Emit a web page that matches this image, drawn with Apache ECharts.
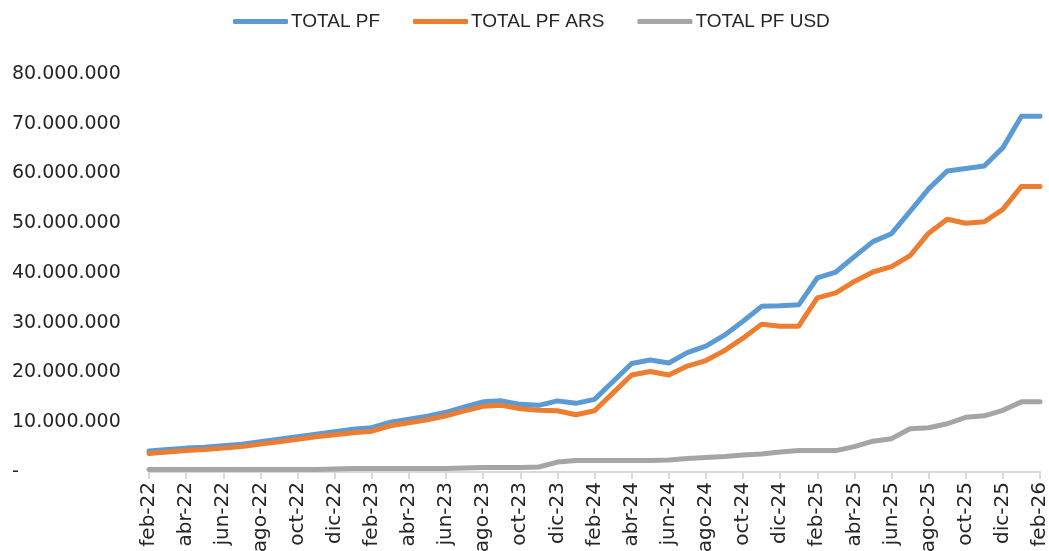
<!DOCTYPE html>
<html>
<head>
<meta charset="utf-8">
<script src="https://cdn.jsdelivr.net/npm/echarts@6/dist/echarts.min.js"></script>
<style>
    html, body { margin: 0; padding: 0; background: #fff; }
    .EC { width: 1049px; height: 551px; }
</style>
</head>
<body>
<div class="EC"></div>
<script>
// months feb-22 .. feb-26
const months = [
    'feb-22', 'mar-22', 'abr-22', 'may-22', 'jun-22', 'jul-22', 'ago-22', 'sep-22', 'oct-22', 'nov-22', 'dic-22', 'ene-23',
    'feb-23', 'mar-23', 'abr-23', 'may-23', 'jun-23', 'jul-23', 'ago-23', 'sep-23', 'oct-23', 'nov-23', 'dic-23', 'ene-24',
    'feb-24', 'mar-24', 'abr-24', 'may-24', 'jun-24', 'jul-24', 'ago-24', 'sep-24', 'oct-24', 'nov-24', 'dic-24', 'ene-25',
    'feb-25', 'mar-25', 'abr-25', 'may-25', 'jun-25', 'jul-25', 'ago-25', 'sep-25', 'oct-25', 'nov-25', 'dic-25', 'ene-26',
    'feb-26'
]

// values in millions
const totalPF = [
    4.2, 4.5, 4.8, 5.0, 5.3, 5.6, 6.1, 6.6, 7.1, 7.6, 8.1, 8.6,
    8.9, 10.0, 10.6, 11.2, 12.0, 13.1, 14.1, 14.3, 13.6, 13.4, 14.3, 13.8,
    14.6, 18.2, 21.8, 22.5, 21.9, 24.0, 25.3, 27.5, 30.3, 33.3, 33.4, 33.6,
    39.0, 40.2, 43.3, 46.3, 47.9, 52.4, 56.9, 60.5, 61.0, 61.5, 65.2, 71.5,
    71.5
]
const totalPFArs = [
    3.7, 4.0, 4.3, 4.5, 4.8, 5.1, 5.6, 6.1, 6.6, 7.1, 7.5, 7.9,
    8.2, 9.3, 9.9, 10.5, 11.3, 12.3, 13.2, 13.4, 12.7, 12.4, 12.3, 11.5,
    12.3, 15.9, 19.5, 20.2, 19.5, 21.3, 22.4, 24.4, 26.9, 29.7, 29.3, 29.3,
    35.0, 36.0, 38.3, 40.2, 41.3, 43.5, 48.0, 50.8, 50.0, 50.3, 52.8, 57.4,
    57.4
]
const totalPFUsd = [
    0.5, 0.5, 0.5, 0.5, 0.5, 0.5, 0.5, 0.5, 0.5, 0.5, 0.6, 0.7,
    0.7, 0.7, 0.7, 0.7, 0.7, 0.8, 0.9, 0.9, 0.9, 1.0, 2.0, 2.3,
    2.3, 2.3, 2.3, 2.3, 2.4, 2.7, 2.9, 3.1, 3.4, 3.6, 4.0, 4.3,
    4.3, 4.3, 5.1, 6.2, 6.7, 8.7, 8.9, 9.7, 11.0, 11.3, 12.4, 14.1,
    14.1
]

const seriesNames = ['TOTAL PF', 'TOTAL PF ARS', 'TOTAL PF USD']
const seriesColors = ['#5B9BD5', '#ED7D31', '#A5A5A5']

const toUnits = arr => arr.map(v => Math.round(v * 1000000))

// 80000000 -> 80.000.000, 0 -> -
const fmt = v => v === 0 ? '-' : String(v).replace(/\B(?=(\d{3})+(?!\d))/g, '.')

window.onload = () => {
    let EC = echarts.init(document.querySelector('.EC'))

    let option = {
        backgroundColor: '#fff',
        animation: false,

        legend: {
            top: 7,
            left: 228,
            itemWidth: 55,
            itemHeight: 5,
            itemGap: 33,
            icon: 'roundRect',
            textStyle: {
                fontFamily: 'Liberation Sans',
                fontSize: 19,
                color: '#262626',
                padding: [0, 0, 0, -2]
            },
            data: seriesNames
        },

        // fixed plot box, labels may run off the bottom like the original
        grid: {
            left: 149,
            right: 9,
            top: 74,
            bottom: 79,
            containLabel: false,
            outerBoundsMode: 'none'
        },

        xAxis: {
            type: 'category',
            boundaryGap: false,
            data: months,
            axisLine: { lineStyle: { color: '#d9d9d9', width: 2 } },
            axisTick: { interval: 1, length: 7, lineStyle: { color: '#d9d9d9', width: 2 } },
            axisLabel: {
                interval: 1,
                rotate: 90,
                margin: 10,
                fontFamily: 'DejaVu Sans',
                fontSize: 20,
                color: '#262626'
            },
            splitLine: { show: false }
        },

        yAxis: {
            type: 'value',
            min: 0,
            max: 80000000,
            interval: 10000000,
            axisLine: { show: false },
            axisTick: { show: false },
            splitLine: { show: false },
            axisLabel: {
                align: 'left',
                margin: 137,
                fontFamily: 'DejaVu Sans',
                fontSize: 19,
                color: '#262626',
                formatter: fmt
            }
        },

        series: [totalPF, totalPFArs, totalPFUsd].map((d, i) => ({
            name: seriesNames[i],
            type: 'line',
            data: toUnits(d),
            showSymbol: false,
            symbol: 'none',
            color: seriesColors[i],
            lineStyle: {
                width: 5,
                color: seriesColors[i],
                cap: 'round',
                join: 'round'
            }
        }))
    }

    EC.setOption(option)
}
</script>
</body>
</html>
